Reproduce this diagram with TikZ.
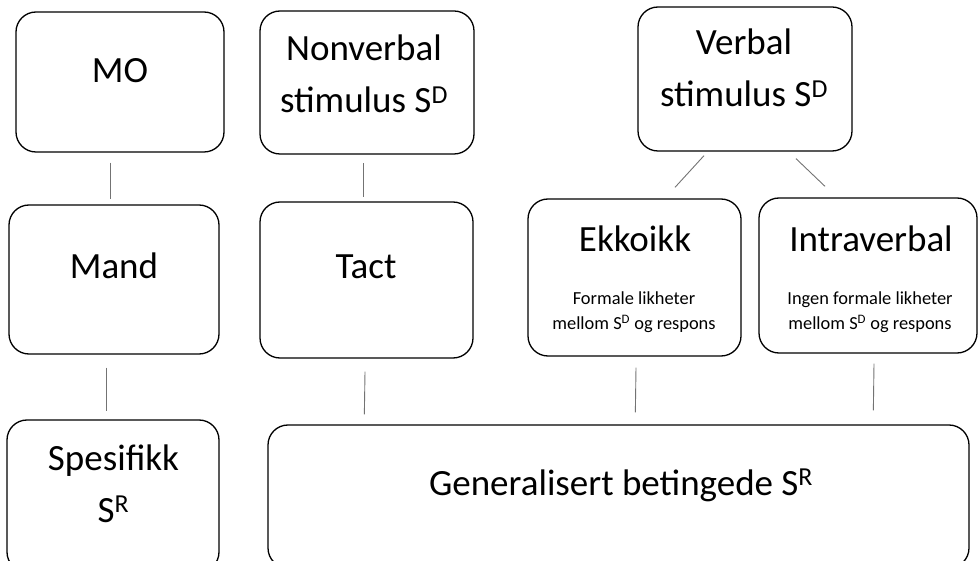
\documentclass[tikz,border=0pt]{standalone}
\usepackage{fontspec}
\setmainfont{Carlito}
\usepackage{tikz}

\begin{document}
\begin{tikzpicture}[
        x=1pt, y=-1pt,
        box/.style={draw, line width=1.3pt, rounded corners=20pt, inner sep=0pt},
        link/.style={draw=black!55, line width=0.9pt},
        big/.style={font=\fontsize{37}{52}\selectfont, align=center, inner sep=0pt, anchor=base},
        small/.style={font=\fontsize{18.4}{25}\selectfont, align=center, inner sep=0pt, anchor=base}
    ]
        \clip (0,0) rectangle (978,561);
        % boxes
        \node[box, minimum width=208pt, minimum height=140pt] (mo) at (120,82) {};
        \node[box, minimum width=214pt, minimum height=143pt] (nonverbal) at (367,82.5) {};
        \node[box, minimum width=214pt, minimum height=144pt] (verbal) at (745,79) {};
        \node[box, minimum width=210pt, minimum height=149pt] (mand) at (114,279.5) {};
        \node[box, minimum width=213pt, minimum height=156pt] (tact) at (366.5,280) {};
        \node[box, minimum width=213pt, minimum height=157pt] (ekkoikk) at (634.5,277.5) {};
        \node[box, minimum width=218pt, minimum height=155pt] (intraverbal) at (868,275.5) {};
        \node[box, minimum width=212pt, minimum height=152pt] (spesifikk) at (113,496) {};
        \node[box, minimum width=701pt, minimum height=143pt] (general) at (618.5,496.5) {};
        % texts (base = last line)
        \node[big] (moText) at (120,83) {MO};
        \node[big] (nonverbalText) at (364,113) {Nonverbal\\stimulus S\textsuperscript{D}};
        \node[big] (verbalText) at (744,107) {Verbal\\stimulus S\textsuperscript{D}};
        \node[big] (mandText) at (114,279) {Mand};
        \node[big] (tactText) at (366,279) {Tact};
        \node[big] (ekkoikkText) at (635,252) {Ekkoikk};
        \node[small] (ekkoikkNote) at (634,330) {Formale likheter\\mellom S\textsuperscript{D} og respons};
        \node[big] (intraverbalText) at (871,252) {Intraverbal};
        \node[small] (intraverbalNote) at (870,330) {Ingen formale likheter\\mellom S\textsuperscript{D} og respons};
        \node[big] (spesifikkText) at (113.5,522) {Spesifikk\\S\textsuperscript{R}};
        \node[big] (generalText) at (621,495) {Generalisert betingede S\textsuperscript{R}};
        % connectors
        \draw[link] ([xshift=-10pt, yshift=-10pt]mo.south) -- ([xshift=-4pt, yshift=5pt]mand.north);
        \draw[link] ([xshift=-4pt, yshift=-8.5pt]nonverbal.south) -- ([xshift=-3.5pt, yshift=4pt]tact.north);
        \draw[link] ([xshift=-41pt, yshift=-4pt]verbal.south) -- ([xshift=40.5pt, yshift=11pt]ekkoikk.north);
        \draw[link] ([xshift=51pt, yshift=-7pt]verbal.south) -- ([xshift=-43pt, yshift=11pt]intraverbal.north);
        \draw[link] ([xshift=-8pt, yshift=-13pt]mand.south) -- ([xshift=-7pt, yshift=8pt]spesifikk.north);
        \draw[link] ([xshift=-1.5pt, yshift=-13pt]tact.south) -- ([xshift=97pt, yshift=10pt]general.north west);
        \draw[link] ([xshift=1.5pt, yshift=-11pt]ekkoikk.south) -- ([xshift=368pt, yshift=12pt]general.north west);
        \draw[link] ([xshift=6pt, yshift=-10pt]intraverbal.south) -- ([xshift=606pt, yshift=14pt]general.north west);
\end{tikzpicture}
\end{document}
